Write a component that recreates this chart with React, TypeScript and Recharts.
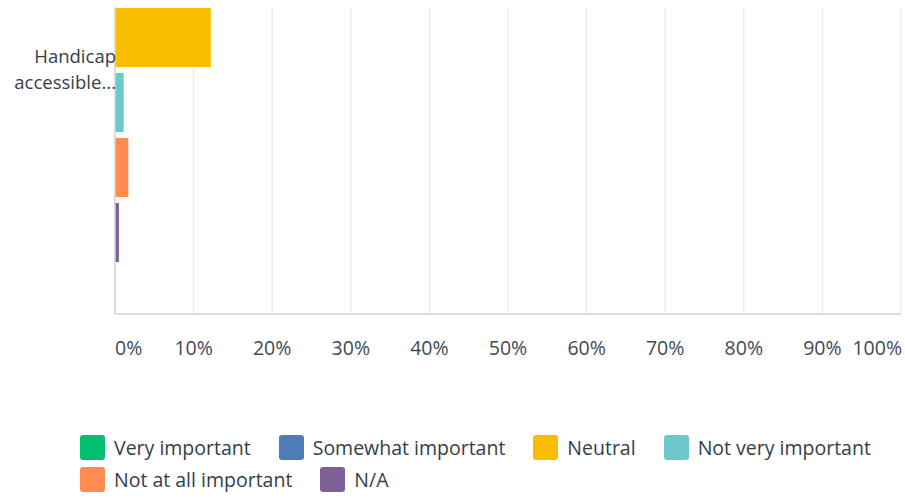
import React from "react"
import { BarChart, Bar, XAxis, YAxis, CartesianGrid } from "recharts"

// one question, six answer shares (percent)
const questions = ["Handicap accessible..."]
const veryImportant = [60.0] // bar sits above the cropped top edge
const somewhatImportant = [24.5] // bar sits above the cropped top edge
const neutral = [12.2]
const notVeryImportant = [1.1]
const notAtAllImportant = [1.7]
const notApplicable = [0.5]
const xTicks = [0, 10, 20, 30, 40, 50, 60, 70, 80, 90, 100]

const series = [
  { key: "very", name: "Very important", color: "#00bf6f", values: veryImportant },
  { key: "somewhat", name: "Somewhat important", color: "#507cb6", values: somewhatImportant },
  { key: "neutral", name: "Neutral", color: "#f9be00", values: neutral },
  { key: "notVery", name: "Not very important", color: "#6bc8cd", values: notVeryImportant },
  { key: "notAtAll", name: "Not at all important", color: "#ff8b4f", values: notAtAllImportant },
  { key: "na", name: "N/A", color: "#7f5f98", values: notApplicable },
]

const data = questions.map((q, i) => {
  const row: Record<string, string | number> = { question: q }
  series.forEach((s) => {
    row[s.key] = s.values[i]
  })
  return row
})

const FONT = "'Open Sans', sans-serif"
const TEXT = "#333e48"

function XTick(props: any) {
  const { x, y, payload } = props
  const v = payload.value
  let anchor: "start" | "middle" | "end" = "middle"
  let dx = 0
  if (v === 0) {
    anchor = "start"
    dx = 0
  } else if (v === 100) {
    anchor = "end"
    dx = 1
  }
  return (
    <text
      x={x + dx}
      y={y + 38.5}
      textAnchor={anchor}
      fill="#3f4a54"
      fontFamily={FONT}
      fontSize={19.5}
    >
      {v}%
    </text>
  )
}

function YTick(props: any) {
  const { x, y, payload } = props
  const words = String(payload.value).split(" ")
  const tx = x + 3
  return (
    <text x={tx} y={y} textAnchor="end" fill={TEXT} fontFamily={FONT} fontSize={18.5}>
      {words.map((w, i) => (
        <tspan key={i} x={tx} dy={i === 0 ? -7 : 26}>
          {w}
        </tspan>
      ))}
    </text>
  )
}

function Legend() {
  return (
    <div
      style={{
        position: "absolute",
        left: 80,
        top: 435,
        width: 830,
        display: "flex",
        flexWrap: "wrap",
        rowGap: 7,
        fontFamily: FONT,
        fontSize: 19.5,
        color: TEXT,
      }}
    >
      {series.map((s) => (
        <div
          key={s.key}
          style={{ display: "flex", alignItems: "center", marginRight: 28, height: 25 }}
        >
          <span
            style={{
              width: 25,
              height: 25,
              borderRadius: 3,
              background: s.color,
              marginRight: 9,
              display: "inline-block",
            }}
          />
          <span style={{ lineHeight: "25px", whiteSpace: "nowrap" }}>{s.name}</span>
        </div>
      ))}
    </div>
  )
}

export default function App() {
  return (
    <div style={{ position: "absolute", left: 0, top: 0, width: 905, height: 499, background: "#fff" }}>
      <div
        style={{
          position: "absolute",
          left: 0,
          top: 7,
          width: 905,
          height: 420,
          overflow: "hidden",
        }}
      >
        <div style={{ position: "absolute", left: 0, top: -182.5 }}>
          <BarChart
            width={905}
            height={549}
            data={data}
            layout="vertical"
            margin={{ top: 0, right: 4, bottom: 0, left: 0 }}
            barSize={59}
            barGap={6}
          >
            <CartesianGrid horizontal={false} stroke="#ececec" strokeWidth={1.5} />
            <XAxis
              type="number"
              domain={[0, 100]}
              ticks={xTicks}
              interval={0}
              tickLine={false}
              tickSize={0}
              height={60}
              axisLine={{ stroke: "#d3d5d7", strokeWidth: 1.5 }}
              tick={<XTick />}
            />
            <YAxis
              type="category"
              dataKey="question"
              width={115}
              tickLine={false}
              tickSize={0}
              axisLine={{ stroke: "#d3d5d7", strokeWidth: 1.5 }}
              tick={<YTick />}
            />
            {series.map((s) => (
              <Bar
                key={s.key}
                dataKey={s.key}
                name={s.name}
                fill={s.color}
                isAnimationActive={false}
              />
            ))}
          </BarChart>
        </div>
      </div>
      <Legend />
    </div>
  )
}
